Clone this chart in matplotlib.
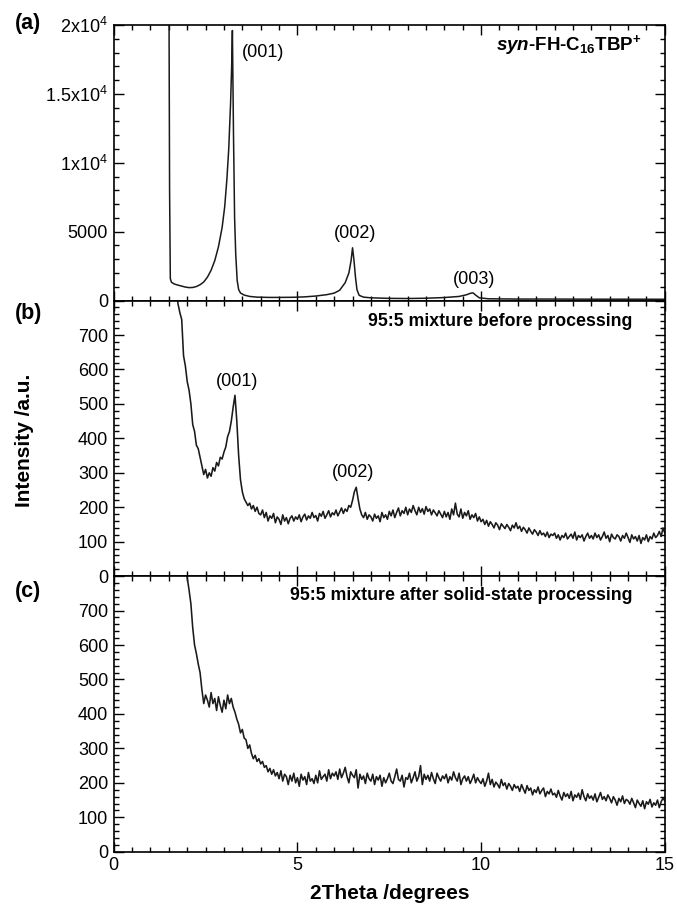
import numpy as np
import matplotlib
matplotlib.use("Agg")
import matplotlib.pyplot as plt
from matplotlib.ticker import MultipleLocator

plt.rcParams['font.family'] = ['Liberation Sans', 'DejaVu Sans']
plt.rcParams['mathtext.fontset'] = 'custom'
plt.rcParams['mathtext.rm'] = 'Liberation Sans'
plt.rcParams['mathtext.it'] = 'Liberation Sans:italic'
plt.rcParams['mathtext.bf'] = 'Liberation Sans:bold'
plt.rcParams['mathtext.bfit'] = 'Liberation Sans:italic:bold'

# ---- data ----
# (a) syn-FH-C16TBP+ , smooth pattern, uneven 2theta steps
theta_a = [1.50, 1.52, 1.54, 1.57, 1.65, 1.75, 1.85, 1.95, 2.05, 2.15, 2.25, 2.35,
           2.45, 2.55, 2.65, 2.75, 2.85, 2.95, 3.02, 3.08, 3.13, 3.18, 3.21, 3.23,
           3.26, 3.29, 3.32, 3.36, 3.40, 3.45, 3.55, 3.70, 3.90, 4.20, 4.50, 4.90,
           5.20, 5.50, 5.80, 6.00, 6.15, 6.30, 6.40, 6.46, 6.50, 6.54, 6.58, 6.62,
           6.68, 6.80, 7.00, 7.50, 8.00, 8.50, 9.00, 9.40, 9.60, 9.72, 9.78, 9.85,
           9.95, 10.2, 11.0, 12.0, 13.0, 14.0, 15.0]
int_a = [25000, 8000, 1600, 1330, 1200, 1120, 1050, 980, 940, 950, 1020, 1150,
         1350, 1700, 2200, 2900, 3900, 5300, 6800, 8800, 11000, 14300, 17000, 19600,
         12000, 6000, 3400, 1450, 800, 550, 400, 300, 250, 230, 230, 240,
         270, 330, 430, 540, 750, 1300, 2000, 2900, 3830, 2900, 1700, 800,
         380, 250, 200, 160, 150, 170, 220, 300, 420, 540, 560, 400,
         200, 130, 110, 110, 100, 100, 95]

# (b) 95:5 mixture before processing, 2theta from 1.70 in 0.05 steps
start_b = 1.70
int_b = [830, 790, 765, 745, 640, 610,
         565, 540, 500, 440, 420, 380, 370, 345, 320, 295, 310, 285, 300, 290, 315, 305, 330, 320, 345, 340,
         360, 375, 405, 420, 450, 490, 525, 450, 350, 280, 245, 225, 215, 205, 212, 195, 205, 188, 200, 182,
         178, 192, 170, 185, 160, 175, 168, 182, 155, 172, 165, 150, 178, 160, 170, 152, 168, 175, 160, 172,
         165, 178, 158, 172, 180, 163, 175, 168, 185, 170, 176, 160, 182, 174, 188, 168, 178, 190, 172, 184,
         178, 192, 175, 186, 198, 182, 195, 188, 205, 200, 220, 245, 258, 225, 195, 178, 170, 185, 165, 178,
         172, 160, 180, 168, 175, 158, 185, 170, 178, 165, 188, 175, 192, 170, 185, 198, 175, 190, 182, 200,
         178, 195, 185, 205, 190, 178, 200, 185, 196, 180, 202, 188, 195, 178, 192, 184, 175, 190, 180, 170,
         188, 172, 185, 165, 195, 178, 212, 180, 172, 195, 168, 185, 175, 190, 165, 178, 170, 182, 160, 172,
         158, 165, 150, 162, 145, 158, 150, 140, 155, 148, 135, 152, 145, 138, 150, 142, 132, 148, 140, 155,
         138, 145, 130, 142, 135, 125, 140, 130, 122, 135, 128, 118, 132, 120, 125, 115, 128, 112, 122, 118,
         125, 110, 120, 105, 118, 112, 125, 108, 115, 122, 110, 128, 105, 118, 112, 120, 102, 115, 125, 110,
         118, 108, 125, 112, 120, 105, 115, 128, 110, 118, 100, 122, 112, 108, 120, 115, 102, 118, 110, 125,
         112, 98, 120, 108, 115, 102, 118, 95, 112, 105, 120, 100, 115, 108, 125, 112, 118, 130, 115, 140,
         125]

# (c) 95:5 mixture after solid-state processing, 2theta from 1.95 in 0.05 steps
start_c = 1.95
int_c = [830,
         795, 760, 720, 650, 600, 575, 545, 520, 470, 430, 455, 440, 420, 462, 430, 445, 410, 450, 425, 405,
         440, 415, 455, 430, 445, 420, 405, 385, 370, 345, 355, 330, 325, 300, 310, 285, 270, 280, 262, 270,
         255, 262, 245, 250, 232, 242, 225, 238, 220, 230, 212, 235, 205, 225, 218, 195, 222, 205, 228, 200,
         215, 190, 225, 208, 218, 195, 230, 205, 212, 198, 222, 200, 235, 210, 218, 225, 205, 238, 212, 228,
         220, 232, 210, 240, 215, 228, 245, 218, 200, 232, 222, 215, 238, 185, 225, 210, 220, 198, 228, 212,
         205, 225, 195, 218, 208, 222, 190, 215, 200, 212, 228, 205, 198, 218, 240, 210, 205, 222, 188, 215,
         210, 228, 200, 215, 232, 205, 218, 250, 195, 225, 210, 222, 205, 230, 212, 198, 228, 215, 205, 220,
         212, 225, 200, 218, 208, 232, 215, 205, 228, 195, 212, 220, 205, 218, 198, 210, 225, 200, 215, 205,
         198, 212, 190, 205, 228, 195, 210, 188, 202, 195, 185, 210, 192, 200, 182, 198, 190, 178, 195, 185,
         190, 175, 195, 182, 170, 192, 178, 185, 165, 180, 172, 188, 168, 178, 185, 160, 175, 168, 182, 165,
         170, 158, 178, 162, 150, 172, 160, 168, 155, 175, 148, 165, 158, 170, 152, 180, 160, 148, 168, 155,
         162, 150, 168, 145, 158, 172, 152, 160, 148, 165, 155, 142, 160, 150, 135, 155, 145, 162, 140, 152,
         148, 138, 155, 142, 128, 150, 140, 132, 148, 125, 145, 138, 152, 130, 142, 135, 150, 128, 145, 155,
         148]

step = 0.05
theta_b = start_b + step * np.arange(len(int_b))
theta_c = start_c + step * np.arange(len(int_c))

# peak labels: (text, 2theta, intensity)
peaks_a = [("(001)", 4.06, 18000), ("(002)", 6.56, 4870), ("(003)", 9.80, 1530)]
peaks_b = [("(001)", 3.37, 564), ("(002)", 6.52, 300)]

# ---- figure ----
fig, axes = plt.subplots(3, 1, sharex=True, figsize=(6.77, 9.09), dpi=100)
fig.subplots_adjust(left=0.168, right=0.982, top=0.9725, bottom=0.063, hspace=0)
ax_a, ax_b, ax_c = axes

col = '#1a1a1a'
ax_a.plot(theta_a, int_a, color=col, lw=1.1)
ax_b.plot(theta_b, int_b, color=col, lw=1.15)
ax_c.plot(theta_c, int_c, color=col, lw=1.15)

for ax in axes:
    ax.set_xlim(0, 15)
    ax.xaxis.set_major_locator(MultipleLocator(5))
    ax.xaxis.set_minor_locator(MultipleLocator(0.5))
    ax.tick_params(which='both', direction='in', top=True, right=True, width=1.0,
                   labelsize=13, pad=4)
    ax.tick_params(which='major', length=7)
    ax.tick_params(which='minor', length=3.5)
    for sp in ax.spines.values():
        sp.set_linewidth(1.2)

ax_a.set_ylim(0, 20000)
ax_a.set_yticks([0, 5000, 10000, 15000, 20000])
ax_a.set_yticklabels(['0', '5000', '1x10$^4$', '1.5x10$^4$', '2x10$^4$'])
ax_a.yaxis.set_minor_locator(MultipleLocator(1000))

for ax in (ax_b, ax_c):
    ax.set_ylim(0, 800)
    ax.set_yticks(range(0, 801, 100))
    ax.set_yticklabels([str(v) for v in range(0, 701, 100)] + [''])
    ax.yaxis.set_minor_locator(MultipleLocator(20))

for txt, x, y in peaks_a:
    ax_a.text(x, y, txt, ha='center', va='center', fontsize=13)
for txt, x, y in peaks_b:
    ax_b.text(x, y, txt, ha='center', va='center', fontsize=13)

ax_a.text(0.958, 0.927, r'$\mathbfit{syn}$-FH-C$_\mathbf{16}$TBP$^\mathbf{+}$',
          transform=ax_a.transAxes, ha='right', va='center', fontsize=13.5, fontweight='bold')
ax_b.text(0.942, 0.924, '95:5 mixture before processing', transform=ax_b.transAxes,
          ha='right', va='center', fontsize=12.8, fontweight='bold')
ax_c.text(0.942, 0.93, '95:5 mixture after solid-state processing', transform=ax_c.transAxes,
          ha='right', va='center', fontsize=12.8, fontweight='bold')

for lab, ypx in (('(a)', 23), ('(b)', 313), ('(c)', 591)):
    fig.text(15 / 677, 1 - ypx / 909, lab, fontsize=15.5, fontweight='bold', ha='left', va='center')

fig.text(25 / 677, 1 - 440 / 909, 'Intensity /a.u.', rotation=90, fontsize=15,
         fontweight='bold', ha='center', va='center')
ax_c.set_xlabel('2Theta /degrees', fontsize=15, fontweight='bold', labelpad=7)

fig.savefig('out.png', dpi=100)
